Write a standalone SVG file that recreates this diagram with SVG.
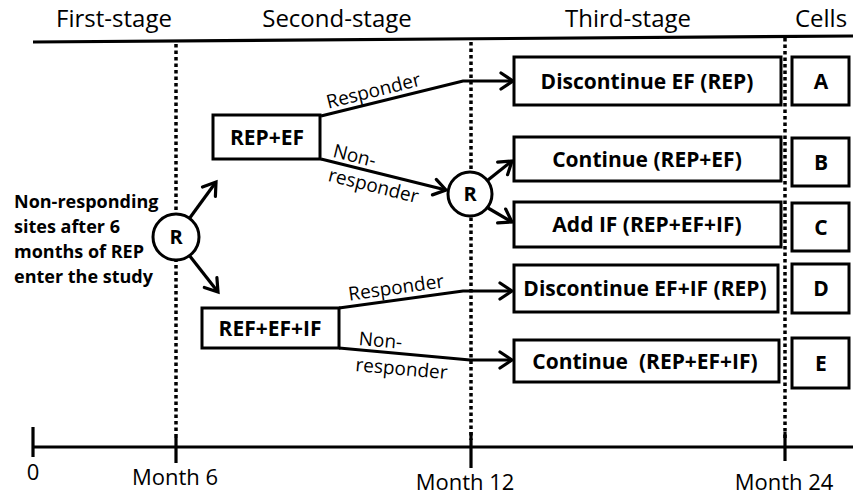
<svg xmlns="http://www.w3.org/2000/svg" width="853" height="496" viewBox="0 0 853 496">
<defs>
<marker id="ah" markerUnits="userSpaceOnUse" markerWidth="22" markerHeight="22" viewBox="-16 -11 18 22" refX="0" refY="0" orient="auto">
<path d="M-12,-8 L0,0 L-12,8" fill="none" stroke="#000" stroke-width="3.2" stroke-linejoin="miter" stroke-linecap="round"/>
</marker>
<style>
.hd{font-family:"Open Sans","Liberation Sans",sans-serif;font-size:24px;fill:#000;text-anchor:middle}
.tm{font-family:"Open Sans","Liberation Sans",sans-serif;font-size:22px;fill:#000;text-anchor:middle}
.bx{fill:#fff;stroke:#000;stroke-width:3}
.bt{font-family:"Open Sans","Liberation Sans",sans-serif;font-weight:bold;font-size:21px;fill:#000;text-anchor:middle}
.lt{font-family:"Open Sans","Liberation Sans",sans-serif;font-weight:bold;font-size:18px;fill:#000}
.lb{font-family:"Open Sans","Liberation Sans",sans-serif;font-size:19px;fill:#000;text-anchor:middle}
.ar{fill:none;stroke:#000;stroke-width:3.2;marker-end:url(#ah)}
.dt{stroke:#000;stroke-width:3.5;stroke-dasharray:3.5 3}
.tk{stroke:#000;stroke-width:3.2}
</style>
</defs>
<rect width="853" height="496" fill="#fff"/>

<g id="headers">
<text class="hd" x="114" y="27">First-stage</text>
<text class="hd" x="337" y="27">Second-stage</text>
<text class="hd" x="628" y="27">Third-stage</text>
<text class="hd" x="821" y="27">Cells</text>
<line class="tk" x1="33" y1="42" x2="853" y2="36"/>
</g>

<g id="timeline">
<line class="dt" x1="176" y1="44" x2="176" y2="440"/>
<line class="dt" x1="471" y1="42" x2="471" y2="440"/>
<line class="dt" x1="785" y1="38" x2="785" y2="440"/>
<line class="tk" x1="33" y1="447" x2="853" y2="447"/>
<line class="tk" x1="33" y1="427" x2="33" y2="457"/>
<line class="tk" x1="176" y1="437" x2="176" y2="463"/>
<line class="tk" x1="471" y1="432" x2="471" y2="468"/>
<line class="tk" x1="785" y1="432" x2="785" y2="461"/>
<text class="tm" x="33" y="480">0</text>
<text class="tm" x="175" y="485">Month 6</text>
<text class="tm" x="465" y="490">Month 12</text>
<text class="tm" x="784" y="490">Month 24</text>
</g>

<g id="intro">
<text class="lt" x="14" y="208">Non-responding</text>
<text class="lt" x="14" y="233">sites after 6</text>
<text class="lt" x="14" y="258">months of REP</text>
<text class="lt" x="14" y="283">enter the study</text>
</g>

<g id="connectors">
<line class="ar" x1="189" y1="219" x2="216" y2="182"/>
<line class="ar" x1="189" y1="255" x2="218" y2="292"/>
<polyline class="ar" points="321,116 463,81 513,81"/>
<line class="ar" x1="321" y1="159" x2="446" y2="190"/>
<line class="ar" x1="488" y1="180" x2="512" y2="161"/>
<line class="ar" x1="488" y1="208" x2="512" y2="222"/>
<polyline class="ar" points="339,308 463,291 512,291"/>
<polyline class="ar" points="339,348 470,360 512,360"/>
<text class="lb" transform="translate(375,97) rotate(-14)">Responder</text>
<text class="lb" transform="translate(353,162) rotate(14)">Non-</text>
<text class="lb" transform="translate(372,192) rotate(14)">responder</text>
<text class="lb" transform="translate(397,294) rotate(-8)">Responder</text>
<text class="lb" transform="translate(380,347) rotate(5)">Non-</text>
<text class="lb" transform="translate(401,375) rotate(5)">responder</text>
</g>

<g id="rand1">
<circle class="bx" cx="176" cy="237" r="23"/>
<text class="bt" x="176" y="244" style="font-size:20px">R</text>
</g>
<g id="rand2">
<circle class="bx" cx="470" cy="194" r="22"/>
<text class="bt" x="470" y="201" style="font-size:20px">R</text>
</g>

<g id="rep-ef">
<rect class="bx" x="213" y="115" width="107" height="44"/>
<text class="bt" x="267" y="144.5">REP+EF</text>
</g>
<g id="ref-ef-if">
<rect class="bx" x="202" y="308" width="137" height="40"/>
<text class="bt" x="270" y="335.5">REF+EF+IF</text>
</g>

<g id="disc-ef">
<rect class="bx" x="514" y="57" width="267" height="48"/>
<text class="bt" x="647" y="88.5">Discontinue EF (REP)</text>
</g>
<g id="cont-rep-ef">
<rect class="bx" x="514" y="137" width="267" height="44"/>
<text class="bt" x="647" y="166.5">Continue (REP+EF)</text>
</g>
<g id="add-if">
<rect class="bx" x="514" y="202" width="267" height="45"/>
<text class="bt" x="647" y="232">Add IF (REP+EF+IF)</text>
</g>
<g id="disc-ef-if">
<rect class="bx" x="514" y="265" width="264" height="47"/>
<text class="bt" x="645" y="296">Discontinue EF+IF (REP)</text>
</g>
<g id="cont-all">
<rect class="bx" x="514" y="340" width="265" height="42"/>
<text class="bt" x="645" y="368.5" xml:space="preserve">Continue  (REP+EF+IF)</text>
</g>

<g id="cell-a"><rect class="bx" x="792" y="57" width="57" height="48"/><text class="bt" x="821" y="88.5">A</text></g>
<g id="cell-b"><rect class="bx" x="792" y="138" width="57" height="48"/><text class="bt" x="821" y="169.5">B</text></g>
<g id="cell-c"><rect class="bx" x="792" y="203" width="57" height="48"/><text class="bt" x="821" y="234.5">C</text></g>
<g id="cell-d"><rect class="bx" x="792" y="264" width="57" height="49"/><text class="bt" x="821" y="296">D</text></g>
<g id="cell-e"><rect class="bx" x="792" y="338" width="57" height="50"/><text class="bt" x="821" y="370.5">E</text></g>
</svg>
